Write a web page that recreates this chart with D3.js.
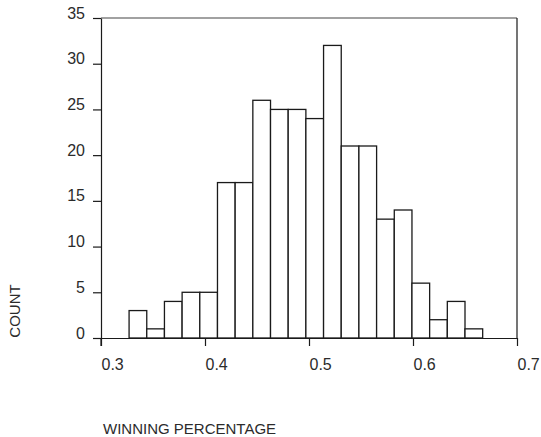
<!DOCTYPE html>
<html>
<head>
<meta charset="utf-8">
<script src="https://cdn.jsdelivr.net/npm/d3@7"></script>
<style>
  html, body { margin: 0; padding: 0; background: #fff; }
  svg { display: block; }
  text { font-family: "Liberation Sans", Arial, sans-serif; fill: #2b2b2b; }
</style>
</head>
<body>
<svg id="chart" width="541" height="437"></svg>
<script>
// Data
const binLower = [0.327, 0.344, 0.361, 0.378, 0.395, 0.412, 0.429, 0.446, 0.463, 0.480,
                  0.497, 0.514, 0.531, 0.548, 0.565, 0.582, 0.599, 0.616, 0.633, 0.650];
const binUpper = [0.344, 0.361, 0.378, 0.395, 0.412, 0.429, 0.446, 0.463, 0.480, 0.497,
                  0.514, 0.531, 0.548, 0.565, 0.582, 0.599, 0.616, 0.633, 0.650, 0.667];
const counts   = [3, 1, 4, 5, 5, 17, 17, 26, 25, 25, 24, 32, 21, 21, 13, 14, 6, 2, 4, 1];
const xTicks = [0.3, 0.4, 0.5, 0.6, 0.7];
const yTicks = [0, 5, 10, 15, 20, 25, 30, 35];
const xTitle = "WINNING PERCENTAGE";
const yTitle = "COUNT";

const W = 541, H = 437;
const margin = { left: 101, right: 24, top: 18, bottom: 99 };
const svg = d3.select("#chart");
const g = svg.append("g").attr("transform", `translate(${margin.left},${margin.top})`);
const iw = W - margin.left - margin.right;
const ih = H - margin.top - margin.bottom;

const x = d3.scaleLinear().domain([0.3, 0.7]).range([0, iw]);
const y = d3.scaleLinear().domain([0, 35]).range([ih, 0]);

const stroke = "#1a1a1a";

// bars
const bins = counts.map((c, i) => ({ x0: binLower[i], x1: binUpper[i], c }));
g.selectAll("rect.bar").data(bins).enter().append("rect")
  .attr("class", "bar")
  .attr("x", d => x(d.x0))
  .attr("width", d => x(d.x1) - x(d.x0))
  .attr("y", d => y(d.c))
  .attr("height", d => y(0) - y(d.c))
  .attr("fill", "#fff")
  .attr("stroke", stroke)
  .attr("stroke-width", 1.3);

// top and right frame lines
g.append("line")
  .attr("x1", x(0.3)).attr("x2", x(0.7))
  .attr("y1", y(35)).attr("y2", y(35))
  .attr("stroke", "#444").attr("stroke-width", 1.2);
g.append("line")
  .attr("x1", x(0.7)).attr("x2", x(0.7))
  .attr("y1", y(35)).attr("y2", y(0))
  .attr("stroke", stroke).attr("stroke-width", 1.2);

// x axis
const xAxis = g.append("g").attr("transform", `translate(0,${ih})`)
  .call(d3.axisBottom(x).tickValues(xTicks).tickFormat(d3.format(".1f")).tickSize(8).tickSizeOuter(0));
xAxis.select(".domain").attr("stroke", stroke).attr("stroke-width", 1.2);
xAxis.selectAll(".tick line").attr("stroke", stroke).attr("stroke-width", 1.2);
xAxis.selectAll(".tick text")
  .attr("y", 32).attr("dy", 0).attr("x", 0)
  .attr("text-anchor", "start")
  .style("font-size", "16px").style("font-family", "Liberation Sans, Arial, sans-serif").attr("fill", "#2b2b2b");

// y axis
const yAxis = g.append("g")
  .call(d3.axisLeft(y).tickValues(yTicks).tickSize(8).tickPadding(8).tickSizeOuter(0));
yAxis.select(".domain").attr("stroke", stroke).attr("stroke-width", 1.2);
yAxis.selectAll(".tick line").attr("stroke", stroke).attr("stroke-width", 1.2);
yAxis.selectAll(".tick text")
  .attr("dy", 0)
  .attr("text-anchor", "end")
  .style("font-size", "16px").style("font-family", "Liberation Sans, Arial, sans-serif").attr("fill", "#2b2b2b");

// extend left axis down to bottom tick length
g.append("line")
  .attr("x1", 0).attr("x2", 0).attr("y1", ih).attr("y2", ih + 8)
  .attr("stroke", stroke).attr("stroke-width", 1.2);

// axis titles
svg.append("text")
  .attr("transform", `translate(20,311) rotate(-90)`)
  .attr("text-anchor", "middle")
  .style("font-size", "15px")
  .text(yTitle);

svg.append("text")
  .attr("x", 103).attr("y", 434)
  .attr("text-anchor", "start")
  .style("font-size", "15px")
  .text(xTitle);
</script>
</body>
</html>
